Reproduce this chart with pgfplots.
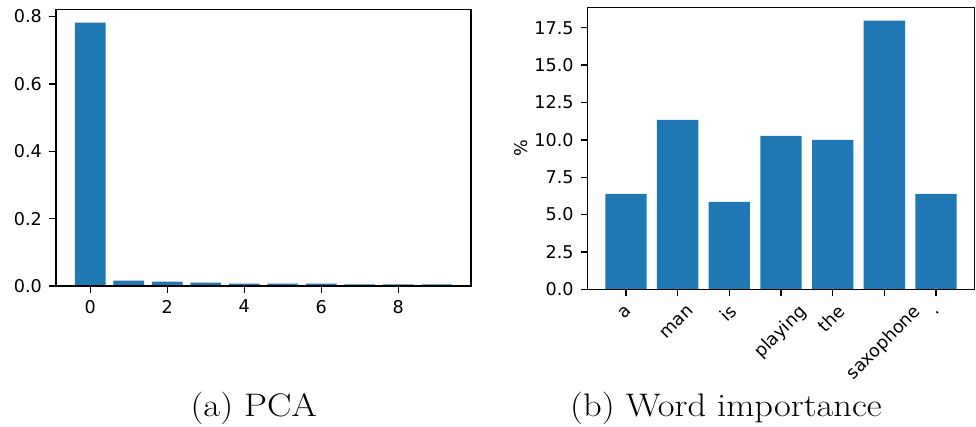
\documentclass[border=0pt]{standalone}
\usepackage{pgfplots}
\pgfplotsset{compat=1.18}
\usepackage{fontspec}
\usepackage{graphicx}
\newfontfamily\dejavu{DejaVu Sans}
\definecolor{mplblue}{HTML}{1F77B4}
\pgfplotsset{
  mpl/.style={
    scale only axis,
    axis on top,
    axis line style={black, line width=0.7pt},
    tick style={black, line width=0.7pt},
    tick align=outside,
    major tick length=3.5pt,
    xtick pos=bottom, ytick pos=left,
    tick label style={font=\dejavu\fontsize{8.8}{10}\selectfont},
    label style={font=\dejavu\fontsize{8.8}{10}\selectfont},
    /pgf/number format/assume math mode=true,
    yticklabel style={/pgf/number format/.cd, fixed, fixed zerofill, precision=1},
    ymin=0,
  }
}
\begin{document}
\begin{tikzpicture}
\path[use as bounding box] (0,0) rectangle (488pt,-213.5pt);
\begin{axis}[mpl, at={(28pt,-4.75pt)}, anchor=north west,
  width=207.5pt, height=138.25pt,
  xmin=-0.89, xmax=9.89, ymax=0.821,
  xtick={0,2,4,6,8}, ytick={0,0.2,0.4,0.6,0.8}]
\addplot[ybar, bar width=0.8, fill=mplblue, draw=none] coordinates {
(0,0.782) (1,0.016) (2,0.013) (3,0.010) (4,0.007) (5,0.007) (6,0.007) (7,0.005) (8,0.005) (9,0.005)};
\end{axis}
\begin{axis}[mpl, at={(293.85pt,-3.65pt)}, anchor=north west,
  width=193.3pt, height=141pt,
  xmin=-0.74, xmax=6.74, ymax=18.87,
  xtick={0,1,2,3,4,5,6},
  ytick={0,2.5,5,7.5,10,12.5,15,17.5},
  xticklabels={\rotatebox{45}{\rule[-2pt]{0pt}{8pt}a},\rotatebox{45}{\rule[-2pt]{0pt}{8pt}man},\rotatebox{45}{\rule[-2pt]{0pt}{8pt}is},\rotatebox{45}{\rule[-2pt]{0pt}{8pt}playing},\rotatebox{45}{\rule[-2pt]{0pt}{8pt}the},\rotatebox{45}{\rule[-2pt]{0pt}{8pt}saxophone},\rotatebox{45}{\rule[-2pt]{0pt}{8pt}.}},
  xticklabel style={anchor=north},
  ylabel={\%},
  ylabel style={at={(axis description cs:-0.1733,0.5)}, anchor=center}]
\addplot[ybar, bar width=0.8, fill=mplblue, draw=none] coordinates {
(0,6.38) (1,11.34) (2,5.85) (3,10.27) (4,10.0) (5,17.97) (6,6.38)};
\end{axis}
\node[anchor=base, font=\fontsize{16.3}{19}\selectfont] at (126.85pt,-208.5pt) {\scalebox{1.12}[1]{(a) PCA}};
\node[anchor=base, font=\fontsize{16.3}{19}\selectfont] at (363pt,-208.5pt) {\scalebox{1.12}[1]{(b) Word importance}};
\end{tikzpicture}
\end{document}
